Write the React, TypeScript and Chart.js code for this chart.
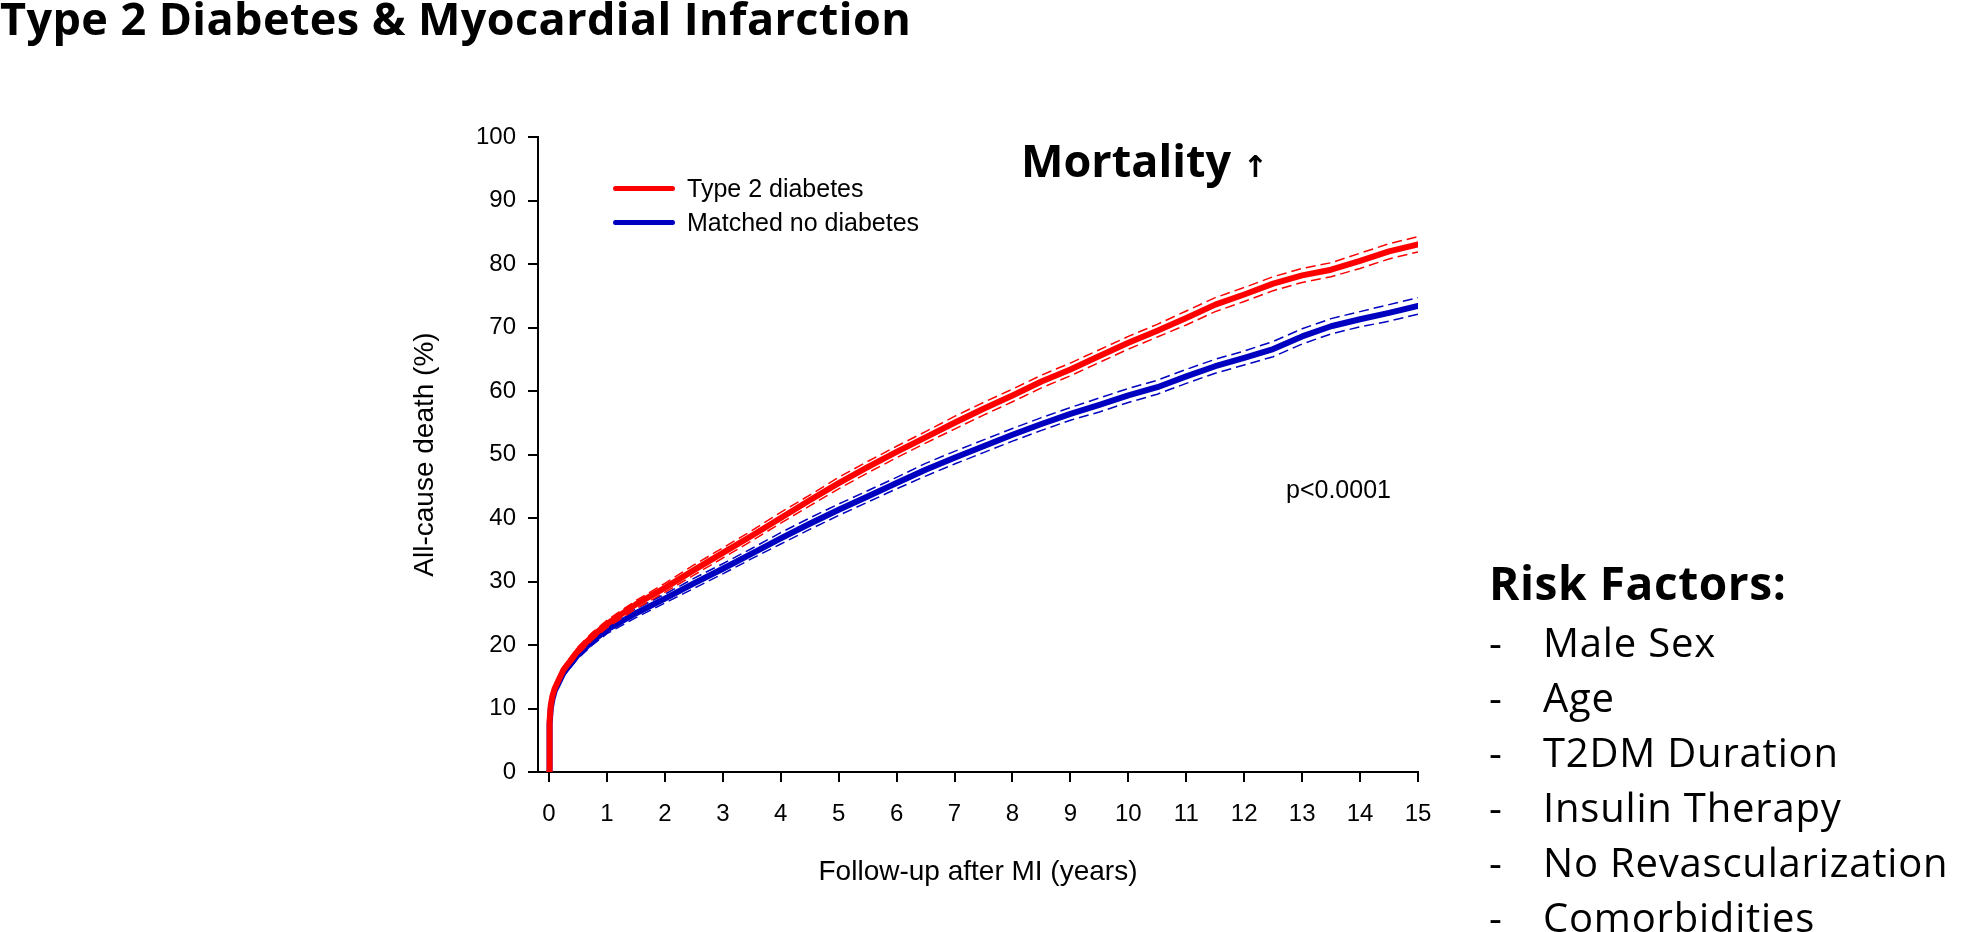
import React, { useEffect, useRef } from "react";
import { Chart, registerables } from "chart.js";

Chart.register(...registerables);

// ---- Data ----
const years = [0, 0.01, 0.03, 0.06, 0.1, 0.25, 0.5, 0.75, 1, 1.5, 2, 2.5, 3, 3.5, 4, 4.5, 5, 5.5, 6, 6.5, 7, 7.5, 8, 8.5, 9, 9.5, 10, 10.5, 11, 11.5, 12, 12.5, 13, 13.5, 14, 14.5, 15];

const diabetesDeath = [0, 8.0, 10.5, 12.0, 13.2, 16.1, 19.1, 21.4, 23.3, 26.4, 29.0, 31.8, 34.5, 37.2, 40.0, 42.8, 45.5, 48.0, 50.4, 52.7, 55.0, 57.2, 59.3, 61.5, 63.4, 65.5, 67.6, 69.5, 71.5, 73.6, 75.2, 76.9, 78.2, 79.1, 80.5, 82.0, 83.1];
const diabetesLower = [null, null, null, null, 12.8, 15.6, 18.5, 20.8, 22.7, 25.7, 28.3, 31.0, 33.7, 36.4, 39.2, 41.9, 44.6, 47.1, 49.5, 51.8, 54.0, 56.2, 58.3, 60.5, 62.4, 64.5, 66.6, 68.5, 70.4, 72.5, 74.1, 75.8, 77.1, 78.0, 79.3, 80.8, 81.9];
const diabetesUpper = [null, null, null, null, 13.6, 16.6, 19.7, 22.0, 23.9, 27.0, 29.7, 32.6, 35.3, 38.0, 40.9, 43.6, 46.4, 48.9, 51.3, 53.6, 56.0, 58.2, 60.3, 62.5, 64.4, 66.5, 68.6, 70.5, 72.6, 74.7, 76.3, 78.0, 79.3, 80.2, 81.7, 83.2, 84.3];

const noDiabetesDeath = [0, 7.5, 10.0, 11.5, 12.8, 15.6, 18.5, 20.6, 22.4, 25.0, 27.3, 29.7, 32.0, 34.4, 36.8, 39.1, 41.3, 43.4, 45.5, 47.6, 49.5, 51.3, 53.1, 54.8, 56.4, 57.8, 59.3, 60.6, 62.3, 63.9, 65.2, 66.6, 68.6, 70.2, 71.3, 72.3, 73.4];
const noDiabetesLower = [null, null, null, null, 12.4, 15.1, 17.9, 20.0, 21.8, 24.3, 26.6, 28.9, 31.2, 33.6, 35.9, 38.2, 40.4, 42.5, 44.6, 46.6, 48.5, 50.3, 52.1, 53.8, 55.4, 56.7, 58.2, 59.5, 61.2, 62.8, 64.1, 65.4, 67.4, 69.0, 70.1, 71.0, 72.1];
const noDiabetesUpper = [null, null, null, null, 13.2, 16.1, 19.1, 21.2, 23.0, 25.7, 28.0, 30.5, 32.8, 35.2, 37.7, 40.0, 42.2, 44.3, 46.4, 48.6, 50.5, 52.3, 54.1, 55.8, 57.4, 58.9, 60.4, 61.7, 63.4, 65.0, 66.3, 67.8, 69.8, 71.4, 72.5, 73.6, 74.7];

const seriesNames = ["Type 2 diabetes", "Matched no diabetes"];
const xTicks = [0, 1, 2, 3, 4, 5, 6, 7, 8, 9, 10, 11, 12, 13, 14, 15];
const riskFactors = ["Male Sex", "Age", "T2DM Duration", "Insulin Therapy", "No Revascularization", "Comorbidities"];

const RED = "#ff0000";
const BLUE = "#0000c0";
const AXIS_FONT = "'Liberation Sans', Arial, sans-serif";
const SLIDE_FONT = "'Open Sans', 'Noto Sans', sans-serif";

export default function App() {
  const canvasRef = useRef<HTMLCanvasElement | null>(null);

  useEffect(() => {
    const canvas = canvasRef.current;
    if (!canvas) return;
    const pts = (ys: (number | null)[]) => years.map((x, i) => ({ x, y: ys[i] }));
    const mainLine = { borderWidth: 6, pointRadius: 0, borderCapStyle: "round", borderJoinStyle: "round", tension: 0 } as any;
    const ciLine = { borderWidth: 1.5, pointRadius: 0, borderDash: [10, 5], tension: 0 } as any;

    const chart = new Chart(canvas, {
      type: "line",
      data: {
        datasets: [
          { ...mainLine, label: seriesNames[0], data: pts(diabetesDeath), borderColor: RED, order: 0 },
          { ...ciLine, label: seriesNames[0] + " lower CI", data: pts(diabetesLower), borderColor: RED, order: 1 },
          { ...ciLine, label: seriesNames[0] + " upper CI", data: pts(diabetesUpper), borderColor: RED, order: 1 },
          { ...mainLine, label: seriesNames[1], data: pts(noDiabetesDeath), borderColor: BLUE, order: 2 },
          { ...ciLine, label: seriesNames[1] + " lower CI", data: pts(noDiabetesLower), borderColor: BLUE, order: 3 },
          { ...ciLine, label: seriesNames[1] + " upper CI", data: pts(noDiabetesUpper), borderColor: BLUE, order: 3 },
        ] as any,
      },
      options: {
        responsive: false,
        animation: false,
        events: [],
        layout: { padding: { left: 400, top: 137, right: 543, bottom: 40 } },
        plugins: { legend: { display: false }, tooltip: { enabled: false }, title: { display: false } },
        scales: {
          x: {
            type: "linear",
            min: -0.19,
            max: 15,
            afterBuildTicks: (s: any) => {
              s.ticks = xTicks.map((v) => ({ value: v }));
            },
            afterFit: (s: any) => {
              s.height = 120;
            },
            ticks: { color: "#000", font: { family: AXIS_FONT, size: 24 }, padding: 18, maxRotation: 0, autoSkip: false },
            grid: { display: true, drawOnChartArea: false, drawTicks: true, tickLength: 10, color: "#000", lineWidth: 2 },
            border: { display: true, color: "#000", width: 2 },
            title: { display: true, text: "Follow-up after MI (years)", color: "#000", font: { family: AXIS_FONT, size: 28 }, padding: { top: 0, bottom: 3 } },
          },
          y: {
            type: "linear",
            min: 0,
            max: 100,
            afterFit: (s: any) => {
              s.width = 138;
            },
            ticks: { stepSize: 10, color: "#000", font: { family: AXIS_FONT, size: 24 }, padding: 12 },
            grid: { display: true, drawOnChartArea: false, drawTicks: true, tickLength: 10, color: "#000", lineWidth: 2 },
            border: { display: true, color: "#000", width: 2 },
            title: { display: true, text: "All-cause death (%)", color: "#000", font: { family: AXIS_FONT, size: 28 }, padding: { top: 8, bottom: 0 } },
          },
        },
      } as any,
    });
    return () => chart.destroy();
  }, []);

  const abs = (s: React.CSSProperties): React.CSSProperties => ({ position: "absolute", whiteSpace: "nowrap", margin: 0, ...s });

  return (
    <div style={{ position: "fixed", left: 0, top: 0, width: 1961, height: 932, background: "#fff", overflow: "hidden" }}>
      <canvas ref={canvasRef} width={1961} height={932} style={{ position: "absolute", left: 0, top: 0, width: 1961, height: 932, display: "block" }} />

      <div style={abs({ left: 0, top: -5, fontFamily: SLIDE_FONT, fontWeight: 700, fontSize: 45, lineHeight: "45px", letterSpacing: "0.4px", color: "#000" })}>
        Type 2 Diabetes &amp; Myocardial Infarction
      </div>

      <div style={abs({ left: 1021, top: 137, fontFamily: SLIDE_FONT, fontWeight: 700, fontSize: 45, lineHeight: "45px", color: "#000" })}>
        Mortality{" "}
        <span style={{ fontFamily: "'DejaVu Sans', sans-serif", fontWeight: 700, fontSize: 30 }}>↑</span>
      </div>

      {/* legend */}
      <div style={abs({ left: 613, top: 185.5, width: 62, height: 5, borderRadius: 2.5, background: RED })} />
      <div style={abs({ left: 687, top: 175.5, fontFamily: AXIS_FONT, fontSize: 25, lineHeight: "25px", color: "#000" })}>{seriesNames[0]}</div>
      <div style={abs({ left: 613, top: 219.5, width: 62, height: 5, borderRadius: 2.5, background: BLUE })} />
      <div style={abs({ left: 687, top: 209.5, fontFamily: AXIS_FONT, fontSize: 25, lineHeight: "25px", color: "#000" })}>{seriesNames[1]}</div>

      <div style={abs({ left: 1286, top: 477, fontFamily: AXIS_FONT, fontSize: 25, lineHeight: "25px", color: "#000" })}>p&lt;0.0001</div>

      <div style={abs({ left: 1489, top: 559, fontFamily: SLIDE_FONT, fontWeight: 700, fontSize: 46, lineHeight: "46px", letterSpacing: "0.6px", color: "#000" })}>
        Risk Factors:
      </div>
      {riskFactors.map((r, i) => (
        <React.Fragment key={r}>
          <div style={abs({ left: 1489, top: 614 + i * 55, fontFamily: SLIDE_FONT, fontSize: 40, lineHeight: "55px", color: "#000" })}>-</div>
          <div style={abs({ left: 1543, top: 614 + i * 55, fontFamily: SLIDE_FONT, fontSize: 40, lineHeight: "55px", letterSpacing: "0.8px", color: "#000" })}>{r}</div>
        </React.Fragment>
      ))}
    </div>
  );
}
